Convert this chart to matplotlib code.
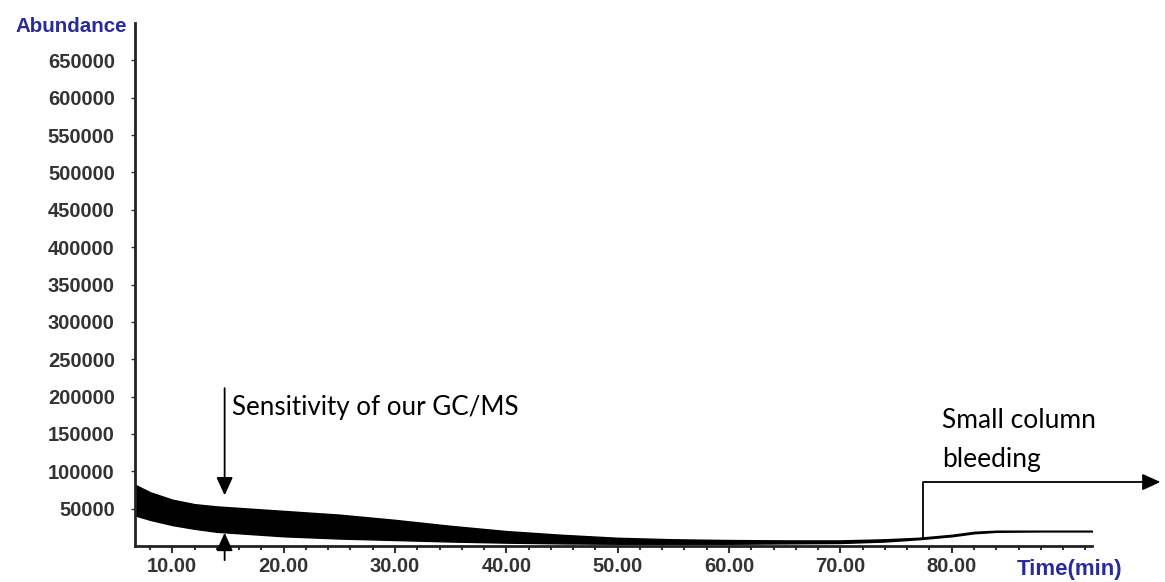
import matplotlib
matplotlib.use("Agg")
import matplotlib.pyplot as plt
import numpy as np

# --- data ---
time_min = [6.65, 8, 10, 12, 14, 16, 20, 25, 30, 35, 40, 45, 50, 55, 60, 65, 70, 74, 77, 80, 82, 84, 88, 92.7]
upper = [82000, 72000, 62000, 56000, 53000, 51000, 47000, 42000, 35000, 27000, 20000, 15000,
         11000, 9000, 8000, 7500, 7500, 9000, 11000, 15000, 19000, 20500, 20500, 20500]
lower = [41000, 35000, 28000, 23000, 19000, 17000, 13000, 10000, 8000, 6000, 4500, 3500,
         3000, 3000, 3000, 3500, 4000, 6000, 9000, 13000, 17000, 19000, 19500, 19500]
x_ticks = [10, 20, 30, 40, 50, 60, 70, 80]
x_labels = ["10.00", "20.00", "30.00", "40.00", "50.00", "60.00", "70.00", "80.00"]
y_ticks = [50000, 100000, 150000, 200000, 250000, 300000, 350000, 400000, 450000,
           500000, 550000, 600000, 650000]

fig = plt.figure(figsize=(11.65, 5.82), dpi=100)
ax = fig.add_axes([135/1165, 1-546/582, (1092-135)/1165, (546-23)/582])

ax.fill_between(time_min, lower, upper, color="black", lw=1)
ax.set_xlim(6.65, 92.6)
ax.set_ylim(0, 700000)

for s in ["top", "right"]:
    ax.spines[s].set_visible(False)
for s in ["left", "bottom"]:
    ax.spines[s].set_linewidth(2)
    ax.spines[s].set_color("#222222")

tick_font = dict(family="Liberation Sans", size=14.5, weight="bold")
ax.set_xticks(x_ticks)
ax.set_xticklabels(x_labels, color="#333333", **tick_font)
ax.set_xticks(np.arange(8, 93, 2), minor=True)
ax.set_yticks(y_ticks)
ax.set_yticklabels([str(v) for v in y_ticks], color="#333333", **tick_font)
ax.tick_params(axis="x", which="major", length=5, width=1.5, pad=3, color="#333333")
ax.tick_params(axis="x", which="minor", length=3, width=1.5, color="#333333")
ax.tick_params(axis="y", length=3, width=1, pad=11.5, color="#333333")

blue = "#2a2a9c"
fig.text(15/1165, 1-27/582, "Abundance", color=blue, fontsize=14.8, weight="bold",
         family="Liberation Sans", ha="left", va="center")
fig.text(1017/1165, 1-570/582, "Time(min)", color=blue, fontsize=16, weight="bold",
         family="Liberation Sans", ha="left", va="center")

# annotations
arrow_kw = dict(arrowstyle="-|>,head_length=1.1,head_width=0.5", color="black", lw=1.3)
ax.annotate("", xy=(14.7, 64000), xytext=(14.7, 215000), arrowprops=arrow_kw, annotation_clip=False)
ax.annotate("", xy=(14.7, 21400), xytext=(14.7, -22700), arrowprops=arrow_kw, annotation_clip=False)
ax.text(15.4, 175100, "Sensitivity of our GC/MS", family="Lato", fontsize=18.7,
        ha="left", va="baseline", clip_on=False)

ax.plot([77.45, 77.45, 98.0], [10700, 85600, 85600], color="black", lw=1.3, clip_on=False)
ax.annotate("", xy=(99.0, 85600), xytext=(97.0, 85600), arrowprops=arrow_kw, annotation_clip=False)
ax.text(79.1, 157800, "Small column", family="Lato", fontsize=19, ha="left", va="baseline", clip_on=False)
ax.text(79.1, 105600, "bleeding", family="Lato", fontsize=19, ha="left", va="baseline", clip_on=False)

fig.savefig("out.png", dpi=100)
